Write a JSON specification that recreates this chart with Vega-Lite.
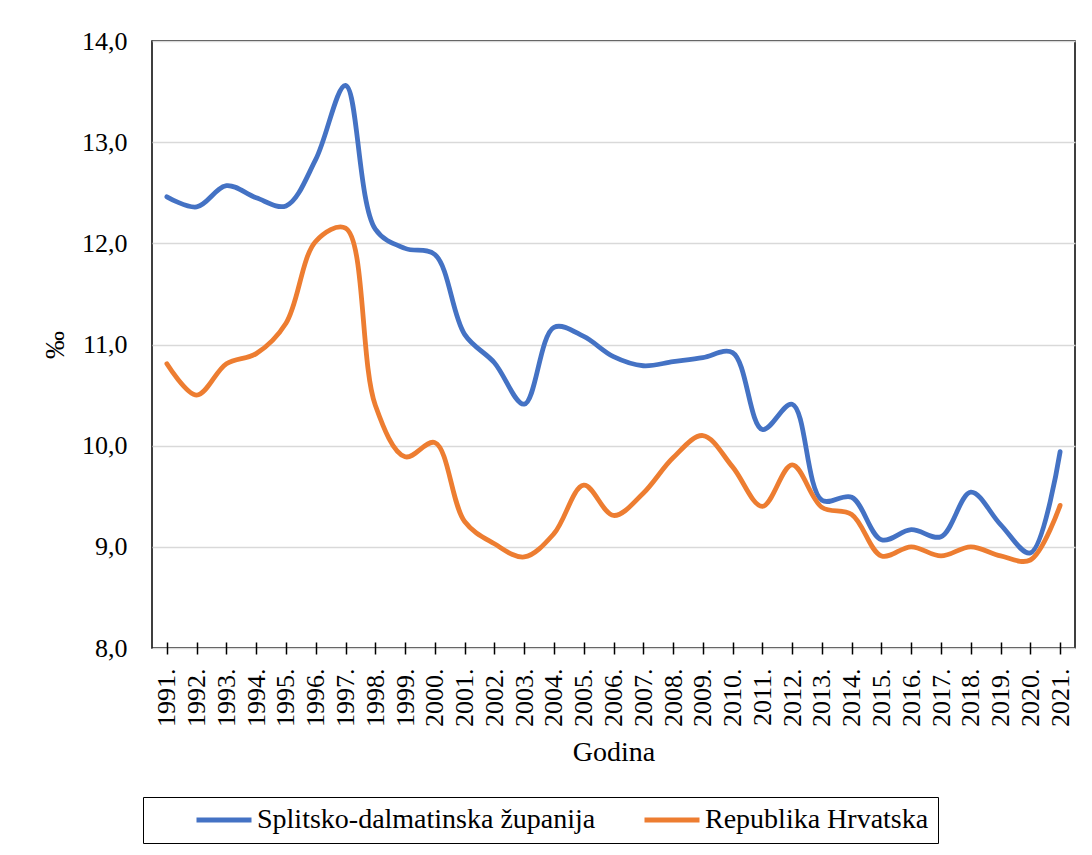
{
  "$schema": "https://vega.github.io/schema/vega-lite/v6.json",
  "autosize": {"type": "none"},
  "padding": {"left": 152, "top": 41, "right": 17, "bottom": 207},
  "width": 923,
  "height": 607,
  "background": "white",
  "config": {
    "view": {"stroke": "black", "strokeWidth": 1.5},
    "font": "Liberation Serif"
  },
  "datasets": {
    "rows": [
      {"Godina": "1991.", "s": "Splitsko-dalmatinska županija", "v": 12.46},
      {"Godina": "1992.", "s": "Splitsko-dalmatinska županija", "v": 12.36},
      {"Godina": "1993.", "s": "Splitsko-dalmatinska županija", "v": 12.57},
      {"Godina": "1994.", "s": "Splitsko-dalmatinska županija", "v": 12.45},
      {"Godina": "1995.", "s": "Splitsko-dalmatinska županija", "v": 12.37},
      {"Godina": "1996.", "s": "Splitsko-dalmatinska županija", "v": 12.83},
      {"Godina": "1997.", "s": "Splitsko-dalmatinska županija", "v": 13.56},
      {"Godina": "1998.", "s": "Splitsko-dalmatinska županija", "v": 12.14},
      {"Godina": "1999.", "s": "Splitsko-dalmatinska županija", "v": 11.95},
      {"Godina": "2000.", "s": "Splitsko-dalmatinska županija", "v": 11.89},
      {"Godina": "2001.", "s": "Splitsko-dalmatinska županija", "v": 11.1},
      {"Godina": "2002.", "s": "Splitsko-dalmatinska županija", "v": 10.82},
      {"Godina": "2003.", "s": "Splitsko-dalmatinska županija", "v": 10.41},
      {"Godina": "2004.", "s": "Splitsko-dalmatinska županija", "v": 11.17},
      {"Godina": "2005.", "s": "Splitsko-dalmatinska županija", "v": 11.08},
      {"Godina": "2006.", "s": "Splitsko-dalmatinska županija", "v": 10.88},
      {"Godina": "2007.", "s": "Splitsko-dalmatinska županija", "v": 10.79},
      {"Godina": "2008.", "s": "Splitsko-dalmatinska županija", "v": 10.83},
      {"Godina": "2009.", "s": "Splitsko-dalmatinska županija", "v": 10.87},
      {"Godina": "2010.", "s": "Splitsko-dalmatinska županija", "v": 10.92},
      {"Godina": "2011.", "s": "Splitsko-dalmatinska županija", "v": 10.16},
      {"Godina": "2012.", "s": "Splitsko-dalmatinska županija", "v": 10.41},
      {"Godina": "2013.", "s": "Splitsko-dalmatinska županija", "v": 9.46},
      {"Godina": "2014.", "s": "Splitsko-dalmatinska županija", "v": 9.49},
      {"Godina": "2015.", "s": "Splitsko-dalmatinska županija", "v": 9.07},
      {"Godina": "2016.", "s": "Splitsko-dalmatinska županija", "v": 9.17},
      {"Godina": "2017.", "s": "Splitsko-dalmatinska županija", "v": 9.1},
      {"Godina": "2018.", "s": "Splitsko-dalmatinska županija", "v": 9.54},
      {"Godina": "2019.", "s": "Splitsko-dalmatinska županija", "v": 9.22},
      {"Godina": "2020.", "s": "Splitsko-dalmatinska županija", "v": 8.94},
      {"Godina": "2021.", "s": "Splitsko-dalmatinska županija", "v": 9.94},
      {"Godina": "1991.", "s": "Republika Hrvatska", "v": 10.81},
      {"Godina": "1992.", "s": "Republika Hrvatska", "v": 10.5},
      {"Godina": "1993.", "s": "Republika Hrvatska", "v": 10.81},
      {"Godina": "1994.", "s": "Republika Hrvatska", "v": 10.91},
      {"Godina": "1995.", "s": "Republika Hrvatska", "v": 11.21},
      {"Godina": "1996.", "s": "Republika Hrvatska", "v": 12.02},
      {"Godina": "1997.", "s": "Republika Hrvatska", "v": 12.15},
      {"Godina": "1998.", "s": "Republika Hrvatska", "v": 10.4},
      {"Godina": "1999.", "s": "Republika Hrvatska", "v": 9.89},
      {"Godina": "2000.", "s": "Republika Hrvatska", "v": 10.03},
      {"Godina": "2001.", "s": "Republika Hrvatska", "v": 9.25},
      {"Godina": "2002.", "s": "Republika Hrvatska", "v": 9.03},
      {"Godina": "2003.", "s": "Republika Hrvatska", "v": 8.9},
      {"Godina": "2004.", "s": "Republika Hrvatska", "v": 9.13},
      {"Godina": "2005.", "s": "Republika Hrvatska", "v": 9.61},
      {"Godina": "2006.", "s": "Republika Hrvatska", "v": 9.31},
      {"Godina": "2007.", "s": "Republika Hrvatska", "v": 9.53},
      {"Godina": "2008.", "s": "Republika Hrvatska", "v": 9.88},
      {"Godina": "2009.", "s": "Republika Hrvatska", "v": 10.1},
      {"Godina": "2010.", "s": "Republika Hrvatska", "v": 9.79},
      {"Godina": "2011.", "s": "Republika Hrvatska", "v": 9.4},
      {"Godina": "2012.", "s": "Republika Hrvatska", "v": 9.81},
      {"Godina": "2013.", "s": "Republika Hrvatska", "v": 9.39},
      {"Godina": "2014.", "s": "Republika Hrvatska", "v": 9.32},
      {"Godina": "2015.", "s": "Republika Hrvatska", "v": 8.91},
      {"Godina": "2016.", "s": "Republika Hrvatska", "v": 9.0},
      {"Godina": "2017.", "s": "Republika Hrvatska", "v": 8.91},
      {"Godina": "2018.", "s": "Republika Hrvatska", "v": 9.0},
      {"Godina": "2019.", "s": "Republika Hrvatska", "v": 8.91},
      {"Godina": "2020.", "s": "Republika Hrvatska", "v": 8.87},
      {"Godina": "2021.", "s": "Republika Hrvatska", "v": 9.41}
    ]
  },
  "data": {"name": "rows"},
  "mark": {"type": "line", "interpolate": "catmull-rom", "strokeWidth": 4.8, "strokeCap": "round", "strokeJoin": "round"},
  "encoding": {
    "x": {
      "field": "Godina",
      "type": "ordinal",
      "sort": null,
      "scale": {"type": "point", "padding": 0.5},
      "axis": {
        "title": "Godina",
        "titleFont": "Liberation Serif",
        "titleFontSize": 28,
        "titleFontWeight": "normal",
        "titleColor": "black",
        "titlePadding": 12,
        "labelAngle": -90,
        "labelAlign": "right",
        "labelBaseline": "middle",
        "labelFont": "Liberation Serif",
        "labelFontSize": 26,
        "labelColor": "black",
        "labelPadding": 14,
        "domain": false,
        "offset": -6,
        "ticks": true,
        "tickSize": 12,
        "tickColor": "black",
        "tickWidth": 1.5,
        "grid": false
      }
    },
    "y": {
      "field": "v",
      "type": "quantitative",
      "scale": {"domain": [8, 14], "nice": false, "zero": false},
      "axis": {
        "title": "‰",
        "titleFont": "Liberation Serif",
        "titleFontSize": 28,
        "titleFontWeight": "normal",
        "titleColor": "black",
        "titlePadding": 12,
        "values": [8, 9, 10, 11, 12, 13, 14],
        "labelExpr": "replace(format(datum.value, '.1f'), '.', ',')",
        "labelFont": "Liberation Serif",
        "labelFontSize": 26,
        "labelColor": "black",
        "labelPadding": 25,
        "ticks": false,
        "domain": false,
        "grid": true,
        "gridColor": "#d9d9d9",
        "gridWidth": 1.5
      }
    },
    "color": {
      "field": "s",
      "type": "nominal",
      "scale": {
        "domain": ["Splitsko-dalmatinska županija", "Republika Hrvatska"],
        "range": ["#4472C4", "#ED7D31"]
      },
      "legend": {
        "title": null,
        "orient": "none",
        "legendX": -9,
        "legendY": 756,
        "direction": "horizontal",
        "columns": 2,
        "strokeColor": "black",
        "fillColor": "white",
        "padding": 9,
        "symbolType": "stroke",
        "symbolSize": 3025,
        "symbolStrokeWidth": 5,
        "symbolOffset": 42,
        "labelOffset": 3,
        "clipHeight": 28,
        "columnPadding": 4,
        "labelFont": "Liberation Serif",
        "labelFontSize": 28,
        "labelColor": "black",
        "labelLimit": 500
      }
    }
  }
}
